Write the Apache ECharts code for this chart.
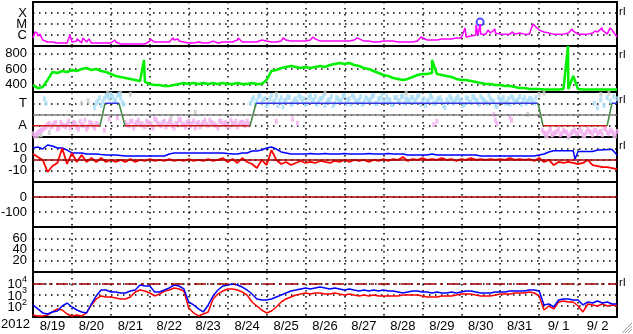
<!DOCTYPE html>
<html><head><meta charset="utf-8">
<script src="https://cdn.jsdelivr.net/npm/echarts@6/dist/echarts.min.js"></script>
<style>html,body{margin:0;padding:0;background:#fff}#c{width:633px;height:334px}</style>
</head><body><div id="c"></div>
<script>
// ---------- data (time in hours since 2012-08-19 00:00) ----------
const STEP_H = 3;
const dayLabels = ['8/19','8/20','8/21','8/22','8/23','8/24','8/25','8/26','8/27','8/28','8/29','8/30','8/31','9/ 1','9/ 2'];
const yearLabel = '2012';

// GOES X-ray flux (W/m^2), 3-hour samples
const xrayFlux3h = [
5.4e-7,8.1e-7,3.5e-7,2.3e-7,2.3e-7,1.9e-7,1.9e-7,1.9e-7,2.3e-7,2.8e-7,
1.9e-7,2.3e-7,1.9e-7,1.9e-7,1.9e-7,1.9e-7,1.9e-7,2.3e-7,1.5e-7,1.5e-7,
1.5e-7,1.5e-7,1.5e-7,1.5e-7,2.8e-7,2.3e-7,2.3e-7,2.3e-7,2.3e-7,3.5e-7,
2.8e-7,2.3e-7,1.9e-7,1.9e-7,2.3e-7,1.9e-7,1.9e-7,2.8e-7,1.9e-7,2.3e-7,
2.3e-7,2.3e-7,3.5e-7,2.3e-7,2.3e-7,2.3e-7,2.3e-7,3.5e-7,2.8e-7,2.3e-7,
2.3e-7,2.8e-7,3.5e-7,2.8e-7,2.8e-7,2.8e-7,2.8e-7,3.5e-7,4.4e-7,2.8e-7,
2.8e-7,2.8e-7,2.8e-7,2.8e-7,2.8e-7,2.8e-7,3.5e-7,4.4e-7,2.8e-7,2.8e-7,
2.3e-7,2.3e-7,2.8e-7,2.8e-7,2.8e-7,2.3e-7,2.3e-7,2.3e-7,2.3e-7,2.8e-7,
4.4e-7,3.5e-7,3.5e-7,3.5e-7,4.4e-7,4.4e-7,4.4e-7,5.4e-7,5.4e-7,6.6e-7,
8.1e-7,1.0e-6,1.2e-6,1.2e-6,1.5e-6,1.5e-6,1.2e-6,1.2e-6,1.2e-6,1.2e-6,
1.5e-6,1.2e-6,1.2e-6,6.6e-6,2.8e-6,1.9e-6,1.5e-6,1.2e-6,1.2e-6,1.2e-6,
1.5e-6,2.3e-6,1.2e-6,1.2e-6,1.2e-6,1.5e-6,1.9e-6,2.8e-6,1.2e-6,2.8e-6,
6.6e-7];
const xraySpikes = [[1.2,1.9e-6],[2.5,1.5e-6],[4.3,1.2e-6],[22.8,1.0e-6],[27.1,4.4e-7],[30.8,5.4e-7],[34.5,4.4e-7],
[50.5,3.5e-7],[72.1,4.4e-7],[86.3,5.4e-7],[89.4,4.4e-7],[111.0,3.5e-7],[126.4,5.4e-7],[141.2,4.4e-7],[154.1,5.4e-7],
[172.6,6.6e-7],[199.8,5.4e-7],[239.2,6.6e-7],[266.3,4.4e-6],[273.1,8.1e-6],[274.3,1.0e-6],[275.6,1.0e-5],[280.5,2.8e-6],
[284.8,3.5e-6],[295.3,1.9e-6],[308.2,1.0e-5],[332.3,3.5e-6],[346.5,2.3e-6],[350.8,4.4e-6],[355.7,4.4e-6]];
const flarePeak = [[275.6,1.5e-5]];

// Solar wind speed (km/s), 3-hour samples
const speed3h = [
391,350,365,457,561,548,574,561,587,574,
600,613,587,600,574,561,535,509,496,483,
470,457,444,430,404,391,391,378,378,391,
404,417,404,417,404,417,404,417,404,417,
404,404,417,404,404,417,404,404,457,574,
587,613,626,639,626,613,626,613,626,639,
626,652,665,678,665,678,652,639,613,600,
574,548,522,509,483,470,457,470,496,522,
535,535,548,535,522,509,496,470,457,457,
444,430,417,404,404,391,391,378,378,365,
352,352,339,339,339,333,333,333,333,339,
339,509,339,333,333,333,333,333,333,333,333];
const speedSpikes = [[68.4,717],[246.0,717],[329.8,900]];

// IMF sector (T = +1, A = -1)
const sectorHours = [0,41.3,44.4,53.0,56.7,133.8,137.5,311.3,314.4,353.9,356.9,360];
const sectorVals  = [-1,-1,1,1,-1,-1,1,1,-1,-1,1,1];
const awayRuns = [
 {start:0, vals:[-1.7,-1.8,-1.5,-1.3,-1.1,-0.8,-1.0,-0.7,-1.2,-0.9,-1.1,-0.6,-1.0,-0.8,-1.3,-0.9,-0.5,-1.1,-0.8,-1.2,-0.9]},
 {start:1, vals:[-1.9,-1.6,-1.4,-1.2,-0.9,-1.1,-0.8,-1.3,-0.7,-1.0,-0.9,-1.2,-0.7,-1.1,-0.6,-1.0,-1.3,-0.7,-1.0,-0.8]},
 {start:57, vals:[-0.7,-1.0,-0.6,-0.9,-0.5,-0.8,-1.1,-0.7,-0.9,-0.4,-0.8,-1.0,-0.6,-0.9,-0.7,-1.2,-0.8,-0.5,-0.9,-0.7,-1.0,-0.6,-0.8,-1.1,-0.7,-0.9,-0.5,-0.8,-1.0,-0.6,-0.9,-0.7,-1.1,-0.8,-0.6,-0.9,-0.7,-1.0,-0.8]},
 {start:58, vals:[-0.9,-0.6,-1.2,-0.7,-0.9,-1.0,-0.6,-0.8,-1.2,-0.5,-0.9,-0.7,-1.1,-0.6,-1.0,-0.8,-0.4,-0.9,-1.1,-0.6,-0.8,-1.2,-0.7,-0.9,-0.5,-1.0,-0.7,-0.9,-1.2,-0.6,-0.8,-1.0,-0.5,-0.9,-1.1,-0.7,-0.8,-0.6]},
 {start:314, vals:[-1.4,-1.7,-1.5,-1.8,-1.6,-1.3,-1.7,-1.5,-1.9,-1.6,-1.4,-1.7,-1.5,-1.8,-1.3,-1.6,-1.4,-1.7,-1.5,-1.2,-1.6,-1.4,-1.7,-1.5]},
 {start:315, vals:[-1.6,-1.9,-1.3,-1.7,-1.5,-1.8,-1.4,-1.6,-1.8,-1.5,-1.7,-1.3,-1.9,-1.6,-1.5,-1.8,-1.4,-1.6,-1.8,-1.3,-1.7,-1.5,-1.9]}];
const awayExtra = [[44,-1.4],[47,-0.4],[52,-0.3],[150,-0.6],[160,-0.4],[163,-0.8],[247,-0.9],[249,-0.6],[284,0.0],[285,-0.5],[286,-0.8],[294,-0.2],[295,-0.5]];
const towardRuns = [
 {start:38, vals:[0.6,1.2,0.8,1.4,1.6,1.8,1.3,1.7,1.5,0.9]},
 {start:39, vals:[1.0,1.5,1.1,1.7,1.4,1.6,1.2,1.8,1.1]},
 {start:134, vals:[1.0,1.5,1.2,1.7,1.3,0.8,1.4,1.1,1.6,1.2,0.7,1.3,1.5,1.0,1.4,1.7,1.2,0.9,1.5,1.3,
 1.6,1.1,1.4,0.8,1.3,1.6,1.0,1.4,1.2,1.7,1.3,0.9,1.5,1.2,1.6,1.1,1.4,1.3,1.7,1.0,
 1.4,1.2,1.6,1.3,0.9,1.5,1.2,1.6,1.4,1.1,1.5,1.3,1.7,1.2,0.8,1.3,1.5,1.0,1.4,1.2,
 0.6,1.1,1.4,1.2,1.6,1.3,0.9,1.4,1.1,1.5,1.2,1.6,1.3,1.0,1.4,1.2,0.7,1.3,1.5,1.1,
 0.9,1.4,1.2,1.6,1.3,1.0,1.4,1.2,1.5]},
 {start:135, vals:[1.3,0.9,1.6,1.1,1.4,1.0,1.7,1.2,0.8,1.5,1.2,1.6,0.9,1.3,1.1,1.5,1.4,1.0,1.7,1.2,
 0.9,1.4,1.6,1.1,1.3,0.8,1.5,1.2,1.6,1.0,1.4,1.7,1.1,1.3,0.9,1.5,1.2,1.6,1.0,1.4,
 1.7,1.1,1.3,0.9,1.5,1.2,1.6,1.0,1.3,1.5,1.1,1.6,0.9,1.4,1.2,1.7,1.0,1.3,1.5,0.8,
 1.3,1.6,1.0,1.4,1.2,0.8,1.5,1.1,1.6,1.3,0.9,1.4,1.1,1.7,1.2,0.8,1.5,1.3,1.0,1.4,
 1.6,1.1,1.3,0.9,1.5,1.2,1.4,1.0]},
 {start:346, vals:[1.0,0.6,1.3,0.8,1.5,1.2,1.6,1.4]}];
const towardExtra = [[7,1.4],[8,1.0]];
const grayPts = [[3,-1.9],[5,-1.8],[10,-1.6],[30,1.0],[34,1.2],[46,1.9],[54,1.9],[60,1.8],[85,-0.3],[100,0.2],[150,1.8],[180,1.9],[230,1.9],[305,0.0],[312,1.8],[315,1.9],[316,-1.9],[320,-1.8],[330,-2.0],[340,-1.9],[350,1.8],[355,1.9],[358,-1.9]];

// IMF Bt and Bz (nT), 3-hour samples
const bt3h = [
10.2,11.1,9.3,12.9,12.0,10.2,10.2,8.4,5.8,5.8,
5.8,4.9,4.9,4.9,4.4,4.0,4.0,4.0,3.6,3.1,
3.1,3.1,3.1,3.1,3.1,3.1,3.1,3.1,4.9,5.8,
5.8,5.8,5.8,5.8,5.8,5.8,5.8,5.8,5.8,5.8,
5.3,4.9,4.9,5.8,5.8,7.6,7.6,8.4,10.2,11.1,
9.3,6.7,5.8,4.9,4.9,4.9,4.9,5.3,4.9,4.9,
5.3,4.9,4.9,4.9,5.3,4.9,4.9,4.9,4.9,5.3,
4.9,4.9,4.9,5.3,4.9,4.9,4.9,4.0,4.0,4.0,
4.0,4.0,4.9,4.0,4.0,4.0,4.0,4.0,4.0,4.0,
4.0,4.0,3.1,3.1,3.1,3.1,3.1,3.1,3.1,3.1,
3.1,3.1,3.1,3.1,4.0,4.9,6.7,7.8,7.8,7.8,
7.8,7.8,7.1,7.1,7.1,7.1,8.4,8.4,8.9,8.9,4.0];
const btExtra = [[334.1,0.3]];
const bz3h = [
4.9,2.2,-0.4,-11.1,-5.8,-3.1,10.0,-4.0,5.8,-2.2,
4.0,-2.2,1.3,-2.2,1.3,-2.2,-0.4,-2.2,-0.4,-2.2,
0.4,-2.2,-0.4,-1.3,0.4,-1.3,-0.4,-1.3,0.4,-1.3,
-0.4,-1.3,0.4,-1.3,-0.4,-1.3,0.4,-1.3,-0.4,1.3,
-2.2,0.4,-3.1,1.3,-2.2,-4.0,-7.6,-0.4,-4.9,8.4,
-0.4,-4.0,-2.2,-4.9,-3.1,-1.3,-3.1,-2.2,-3.1,-1.3,
-2.2,-3.1,-1.3,-2.2,-0.4,-2.2,-0.4,-1.3,-0.4,-2.2,
-0.4,-1.3,0.4,-1.3,0.4,-0.4,2.2,-1.3,0.4,-0.4,
1.3,-0.4,0.4,-0.4,1.3,-0.4,0.4,-1.3,0.4,-0.4,
1.3,-0.4,0.4,-0.4,0.4,-0.4,0.4,-0.4,1.3,-0.4,
0.4,-0.4,0.4,-1.3,1.3,-2.2,-0.4,-4.9,-2.2,-3.1,
-2.2,-3.1,-4.0,-3.1,-0.4,-4.9,-5.8,-6.7,-6.7,-7.6,-8.5];

// Particle flux (log scale), 3-hour samples
const fluxBlue3h = [
117,52,23,18.6,28,34,95,175,78,42,
28,23,143,740,2500,2500,1670,1670,1360,1360,
2050,2500,7000,5700,5700,1670,1670,2500,3800,7000,
5700,3100,215,117,52,28,117,740,2500,5700,
7000,8500,7000,4600,2500,1100,400,325,325,400,
600,900,1360,2050,2500,3100,3800,3100,3800,4600,
3800,3100,3800,3100,2500,3100,2500,2050,2500,2050,
2500,2050,2500,2050,2050,1670,1360,1670,2050,2050,
1670,1670,1360,1670,1360,1360,1670,1360,1670,2050,
2050,1670,1360,1360,1360,1670,1670,1670,2050,2050,
2050,2050,2500,2500,2050,117,143,78,325,400,
400,325,325,117,215,175,265,175,215,143,143];
const fluxRed3h = [
15,12.3,12.3,15,28,52,42,18.6,12.3,15,
12.3,23,117,400,740,600,600,490,400,400,
600,1670,2500,2050,1360,740,1100,2050,2500,3800,
3100,2050,63,23,12.3,18.6,28,400,1100,2050,
3100,3100,2500,1670,900,215,95,42,23,34,
78,215,400,600,900,1100,1360,1100,1360,1360,
1100,1100,1360,1100,900,1100,900,740,900,740,
900,740,740,740,740,740,900,900,900,900,
740,600,600,600,740,740,740,900,1100,1100,
1100,900,740,740,740,900,1100,1100,1100,1360,
1360,1360,1670,1360,740,42,95,52,215,265,
215,215,95,28,143,117,95,143,95,117,95];

// ---------- helpers ----------
const FONT = "'Liberation Sans', Arial, Helvetica, sans-serif";
function grid3h(vals){ return vals.map((v,i)=>[i*STEP_H, v]); }
function withExtra(vals, extra){ return grid3h(vals).concat(extra).sort((a,b)=>a[0]-b[0]); }
function runs(list){ const out=[]; list.forEach(r=>r.vals.forEach((v,i)=>out.push([r.start+i*2, v]))); return out; }

const panelTops = [2,46,92,137,182,227,272];
const panelHeights = [44,46,45,45,45,45,45];
const dotted = {show:true, lineStyle:{color:'#000', width:1.5, type:[1.5,4.5]}};

const grids = panelTops.map((t,i)=>({left:33, right:16, top:t, height:panelHeights[i], show:true,
  borderColor:'#000', borderWidth:2, backgroundColor:'transparent', containLabel:false, outerBoundsMode:'none'}));

const labelCenters = dayLabels.map((d,i)=>i*24+12);
const xAxes = panelTops.map((t,i)=>({type:'value', gridIndex:i, min:0, max:360, interval:24,
  axisLine:{show:false}, axisTick:{show:false}, splitLine:dotted,
  axisLabel: i===6 ? {show:true, customValues:labelCenters, margin:3, color:'#000', fontSize:13, fontFamily:FONT,
     formatter:(v)=>dayLabels[Math.round((v-12)/24)]} : {show:false}}));

const ylab = {color:'#000', fontSize:13, fontFamily:FONT, margin:6};
const yAxes = [
 {type:'log', gridIndex:0, min:1e-7, max:1e-3, logBase:10, axisLine:{show:false}, axisTick:{show:false}, splitLine:dotted,
  axisLabel:Object.assign({}, ylab, {formatter:(v)=>({'-4':'X','-5':'M','-6':'C'})[String(Math.round(Math.log10(v)))]||''})},
 {type:'value', gridIndex:1, min:300, max:900, axisLine:{show:false}, axisTick:{show:false, customValues:[400,600,800]}, splitLine:dotted,
  axisLabel:Object.assign({}, ylab, {customValues:[400,600,800]})},
 {type:'value', gridIndex:2, min:-2, max:2, interval:1, axisLine:{show:false}, axisTick:{show:false}, splitLine:dotted,
  axisLabel:Object.assign({}, ylab, {formatter:(v)=>v===1?'T':(v===-1?'A':'')})},
 {type:'value', gridIndex:3, min:-20, max:20, interval:10, axisLine:{show:false}, axisTick:{show:false}, splitLine:dotted,
  axisLabel:Object.assign({}, ylab, {formatter:(v)=>Math.abs(v)<=10?String(v):''})},
 {type:'value', gridIndex:4, min:-200, max:100, interval:100, axisLine:{show:false}, axisTick:{show:false}, splitLine:dotted,
  axisLabel:Object.assign({}, ylab, {formatter:(v)=>(v===0||v===-100)?String(v):''})},
 {type:'value', gridIndex:5, min:0, max:80, interval:20, axisLine:{show:false}, axisTick:{show:false}, splitLine:dotted,
  axisLabel:Object.assign({}, ylab, {formatter:(v)=>(v>0&&v<80)?String(v):''})},
 {type:'log', gridIndex:6, min:10, max:1e5, logBase:10, axisLine:{show:false}, axisTick:{show:false}, splitLine:dotted,
  axisLabel:Object.assign({}, ylab, {
    formatter:(v)=>{const e=Math.round(Math.log10(v)); return (e>=2&&e<=4)?('{b|10}{s|'+e+'}'):'';},
    rich:{b:{fontSize:13, fontFamily:FONT, color:'#000', lineHeight:16, verticalAlign:'bottom'},
          s:{fontSize:9, fontFamily:FONT, color:'#000', lineHeight:9, verticalAlign:'top'}}})}
];

const series = [];
const lineBase = {type:'line', symbol:'none', animation:false, silent:true};
// panel 1
series.push(Object.assign({}, lineBase, {xAxisIndex:0, yAxisIndex:0, data:withExtra(xrayFlux3h, xraySpikes), lineStyle:{color:'#ff00ff', width:1.5}}));
series.push({type:'scatter', xAxisIndex:0, yAxisIndex:0, data:flarePeak, symbol:'emptyCircle', symbolSize:7, animation:false,
  itemStyle:{color:'#2020ff', borderColor:'#2020ff', borderWidth:1.3}});
// panel 2
series.push(Object.assign({}, lineBase, {xAxisIndex:1, yAxisIndex:1, data:withExtra(speed3h, speedSpikes), lineStyle:{color:'#00f000', width:2.5}}));
// panel 3
const scat = (data,color)=>({type:'scatter', xAxisIndex:2, yAxisIndex:2, data, symbol:'rect', symbolSize:[3,5], animation:false, silent:true, itemStyle:{color}});
series.push(scat(grayPts, '#c8c8c8'));
series.push(scat(runs(awayRuns).concat(awayExtra), '#f2aef0'));
series.push(scat(runs(towardRuns).concat(towardExtra), '#a6dcf6'));
series.push(Object.assign({}, lineBase, {xAxisIndex:2, yAxisIndex:2, data:[], markLine:{symbol:'none', silent:true, label:{show:false},
  lineStyle:{color:'#808080', width:1.5, type:'solid'}, data:[{yAxis:0}]}}));
for (let k=0;k<sectorHours.length-1;k++){
  const a=sectorVals[k], b=sectorVals[k+1];
  const color = a!==b ? '#3c8a3c' : (a>0 ? '#3434e0' : '#d01818');
  series.push(Object.assign({}, lineBase, {xAxisIndex:2, yAxisIndex:2, data:[[sectorHours[k],a],[sectorHours[k+1],b]], lineStyle:{color, width:1.5}}));
}
// panel 4
series.push(Object.assign({}, lineBase, {xAxisIndex:3, yAxisIndex:3, data:[], markLine:{symbol:'none', silent:true, label:{show:false},
  lineStyle:{color:'#a00000', width:1.5, type:'solid'}, data:[{yAxis:0}]}}));
series.push(Object.assign({}, lineBase, {xAxisIndex:3, yAxisIndex:3, data:withExtra(bt3h, btExtra), lineStyle:{color:'#0000ff', width:1.5}}));
series.push(Object.assign({}, lineBase, {xAxisIndex:3, yAxisIndex:3, data:grid3h(bz3h), lineStyle:{color:'#ff0000', width:1.8}}));
// panel 5
series.push(Object.assign({}, lineBase, {xAxisIndex:4, yAxisIndex:4, data:[], markLine:{symbol:'none', silent:true, label:{show:false},
  lineStyle:{color:'#a00000', width:1.5, type:'solid'}, data:[{yAxis:0}]}}));
// panel 6 (empty)
series.push(Object.assign({}, lineBase, {xAxisIndex:5, yAxisIndex:5, data:[]}));
// panel 7
series.push(Object.assign({}, lineBase, {xAxisIndex:6, yAxisIndex:6, data:[], markLine:{symbol:'none', silent:true, label:{show:false},
  lineStyle:{color:'#a00000', width:1.5, type:[12,4,3,4]}, data:[{yAxis:10000}]}}));
series.push(Object.assign({}, lineBase, {xAxisIndex:6, yAxisIndex:6, data:grid3h(fluxRed3h), lineStyle:{color:'#ff0000', width:1.5}}));
series.push(Object.assign({}, lineBase, {xAxisIndex:6, yAxisIndex:6, data:grid3h(fluxBlue3h), lineStyle:{color:'#0000ff', width:1.5}}));

const rText = (y)=>({type:'text', left:619, top:y, style:{text:'rI', fontSize:11, fontFamily:FONT, fill:'#000'}});
const graphic = [
  {type:'text', left:1, top:318, style:{text:yearLabel, fontSize:13, fontFamily:FONT, fill:'#000'}},
  rText(6), rText(49), rText(94), rText(140), rText(277),
  {type:'line', shape:{x1:622,y1:333,x2:632,y2:323}, style:{stroke:'#9a9a9a', lineWidth:1}},
  {type:'line', shape:{x1:625,y1:333,x2:632,y2:326}, style:{stroke:'#9a9a9a', lineWidth:1}},
  {type:'line', shape:{x1:628,y1:333,x2:632,y2:329}, style:{stroke:'#9a9a9a', lineWidth:1}}
];

const chart = echarts.init(document.getElementById('c'), null, {renderer:'canvas'});
chart.setOption({backgroundColor:'#fff', animation:false, grid:grids, xAxis:xAxes, yAxis:yAxes, series, graphic});
</script></body></html>
